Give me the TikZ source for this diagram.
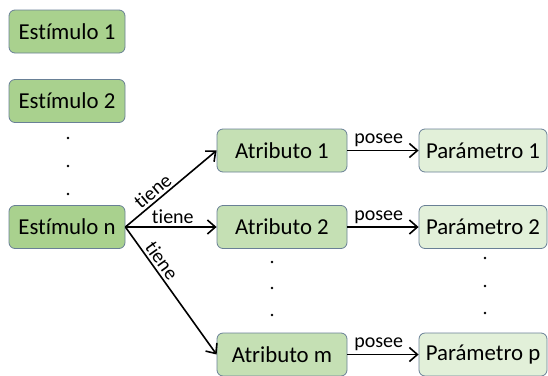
\documentclass[tikz,border=0pt]{standalone}
\usepackage{fontspec}
\setmainfont{Carlito}[Ligatures=NoCommon]
\usetikzlibrary{arrows.meta}
\definecolor{cEst}{RGB}{169,209,142}
\definecolor{cAtr}{RGB}{197,224,180}
\definecolor{cPar}{RGB}{226,240,217}
\definecolor{cEdge}{RGB}{105,128,150}

\begin{document}
\begin{tikzpicture}[x=1pt,y=-1pt,
  box/.style={draw=cEdge,line width=0.8pt,rounded corners=6pt,minimum height=43pt,inner sep=0pt,font=\fontsize{22.8}{27}\selectfont},
  rel/.style={-{Straight Barb[length=8pt,width=14pt,line width=1.6pt]},line width=1.6pt},
  lbl/.style={font=\fontsize{20}{24}\selectfont,inner sep=2.5pt}]
\useasboundingbox (0,0) rectangle (548,375);
% estimulos
\node[box,fill=cEst,minimum width=116pt] (e1) at (67,31.5) {Estímulo 1};
\node[box,fill=cEst,minimum width=116pt] (e2) at (67,101) {Estímulo 2};
\node[box,fill=cEst,minimum width=116pt] (en) at (67,227) {Estímulo n};
% atributos
\node[box,fill=cAtr,minimum width=130pt] (a1) at (282,150.5) {Atributo 1};
\node[box,fill=cAtr,minimum width=130pt] (a2) at (282,227) {Atributo 2};
\node[box,fill=cAtr,minimum width=130pt] (am) at (282,354.5) {Atributo m};
% parametros
\node[box,fill=cPar,minimum width=128pt] (p1) at (483,150.5) {Parámetro 1};
\node[box,fill=cPar,minimum width=128pt] (p2) at (483,227) {Parámetro 2};
\node[box,fill=cPar,minimum width=128pt] (pp) at (483,354.5) {Parámetro p};
% puntos suspensivos
\foreach \y in {138,166,194} \fill (68,\y) circle (1.3pt);
\foreach \y in {262,288,315} \fill (272,\y) circle (1.3pt);
\foreach \y in {258,286,313} \fill (485,\y) circle (1.3pt);
% relaciones
\draw[rel] (en.east) -- node[lbl,pos=0.37,above,sloped] {tiene} (a1.west);
\draw[rel] (en.east) -- node[lbl,pos=0.52,above] {tiene} (a2.west);
\draw[rel] (en.east) -- node[lbl,pos=0.31,above,sloped] {tiene} (am.west);
\draw[rel] (a1) -- node[lbl,pos=0.44,above] {posee} (p1);
\draw[rel] (a2) -- node[lbl,pos=0.44,above] {posee} (p2);
\draw[rel] (am) -- node[lbl,pos=0.44,above] {posee} (pp);
\end{tikzpicture}
\end{document}
